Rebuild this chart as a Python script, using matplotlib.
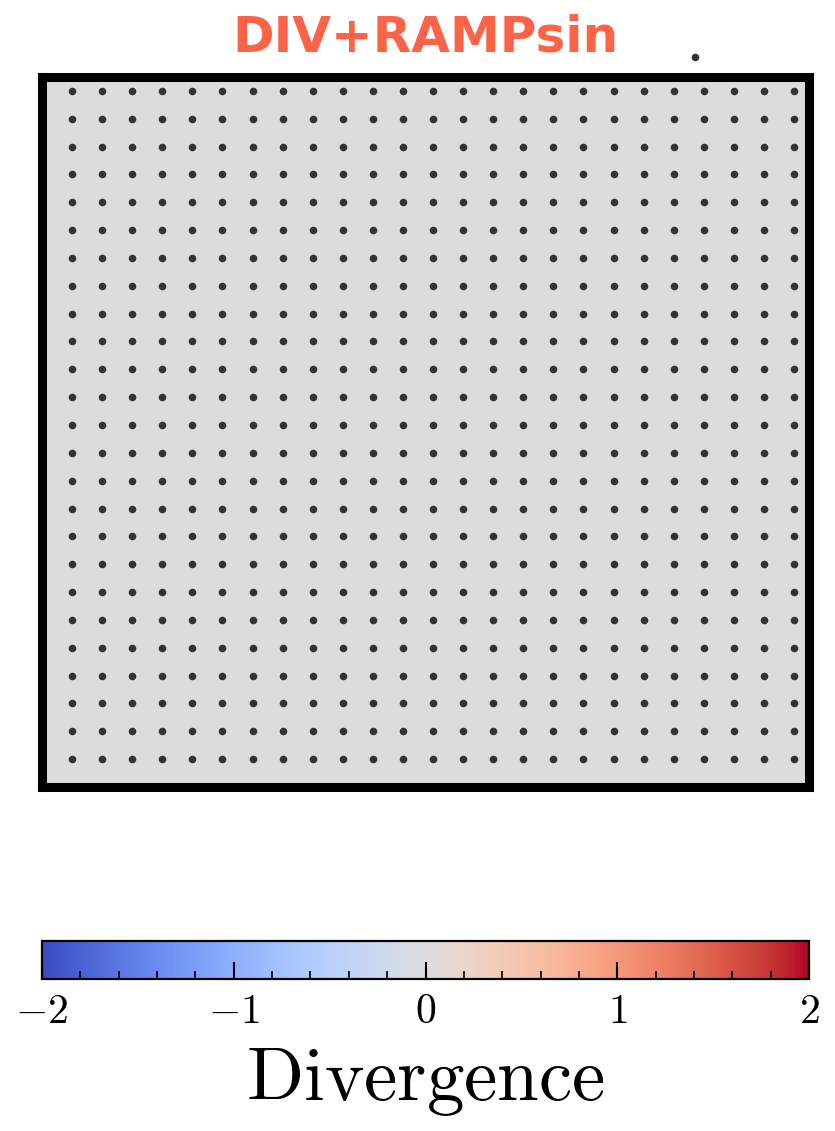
import numpy as np
import matplotlib
matplotlib.use("Agg")
import matplotlib.pyplot as plt
from matplotlib.ticker import MultipleLocator

plt.rcParams['mathtext.fontset'] = 'cm'

# grid of sample points (index space) and the divergence on it
grid_x = np.arange(25)
grid_y = np.arange(25)
div_values = np.zeros((25, 25))   # everything reads as 0 -> neutral grey

# lone point sitting above the frame
stray_x = [20.7]
stray_y = [25.2]

title = "DIV+RAMPsin"
cbar_ticks = [-2, -1, 0, 1, 2]

fig = plt.figure(figsize=(8.35, 11.31), dpi=100)
ax = fig.add_axes([0.0503, 0.3042, 0.9186, 0.6278])

X, Y = np.meshgrid(grid_x, grid_y)
mesh = ax.pcolormesh(np.linspace(-1, 24.5, 26), np.linspace(-1, 24.5, 26),
                     div_values, cmap='coolwarm', vmin=-2, vmax=2, shading='flat')
ax.scatter(X.ravel(), Y.ravel(), s=30, color='#333333', zorder=3, linewidths=0)
ax.scatter(stray_x, stray_y, s=30, color='#333333', zorder=3, linewidths=0, clip_on=False)

ax.set_xlim(-1, 24.5)
ax.set_ylim(-1, 24.5)
ax.set_xticks(grid_x)
ax.set_yticks(grid_y)
ax.tick_params(direction='in', length=3, width=0.8, color='#777777',
               labelbottom=False, labelleft=False)
for s in ax.spines.values():
    s.set_linewidth(6.5)
ax.set_title(title, color='tomato', fontweight='bold', fontsize=36, pad=18)

cax = fig.add_axes([0.0503, 0.1344, 0.9186, 0.0336])
cb = fig.colorbar(mesh, cax=cax, orientation='horizontal', ticks=cbar_ticks)
cb.outline.set_linewidth(1.6)
cax.xaxis.set_minor_locator(MultipleLocator(0.2))
cax.tick_params(which='major', direction='in', length=12, width=1.5, labelsize=30, pad=8)
cax.tick_params(which='minor', direction='in', length=6, width=1.2)
cax.set_xticklabels([r'$-2$', r'$-1$', r'$0$', r'$1$', r'$2$'])
cb.set_label(r'$\mathrm{Divergence}$', fontsize=54, labelpad=9)

fig.savefig('out.png', dpi=100)
